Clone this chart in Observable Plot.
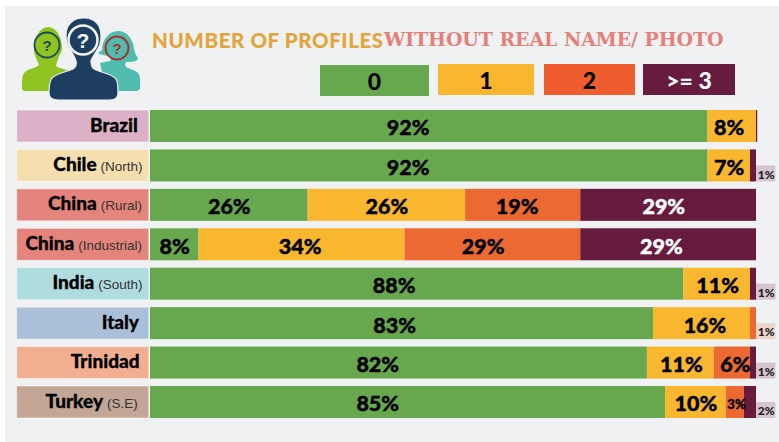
<!DOCTYPE html>
<html><head><meta charset="utf-8">
<script src="https://cdn.jsdelivr.net/npm/d3@7"></script>
<script src="https://cdn.jsdelivr.net/npm/@observablehq/plot@0.6"></script>
<style>
html,body{margin:0;padding:0;background:#fff;width:779px;height:442px;overflow:hidden}
#panel{position:absolute;left:5px;top:6px;width:774px;height:436px;background:#eff1f3}
#chart{position:absolute;left:0;top:0}
#chart svg{background:transparent!important}
.t{position:absolute;white-space:nowrap;line-height:1}
#t1{left:152px;top:28px;font:900 20.5px Lato,sans-serif;color:#e3a43a;letter-spacing:.6px}
#t2{left:384px;top:28px;font:700 19px "DejaVu Serif",serif;color:#e5746c;letter-spacing:-.1px;opacity:.9}
.lg{position:absolute;display:flex;align-items:center;justify-content:center;font:900 23px Lato,sans-serif}
#icon{position:absolute;left:0;top:0}
</style></head><body>
<div id="panel"></div>
<div id="chart"></div>
<svg id="icon" width="150" height="105" viewBox="0 0 150 105">
 <path fill="#8fc31f" d="M34 48c0-11 6-21 14-21s14 10 14 21c0 4-2 6-3 8-1 4-3 7-3 10 2 2 8 3 13 5l-5 20H26c-4 0-4-2-4-5 0-6 0-11 3-14 3-3 11-4 14-7-1-3-3-6-4-10-1-2-1-4-1-7z"/>
 <circle cx="47" cy="45" r="12.5" fill="#8fc31f" stroke="#1b4a5e" stroke-width="1.8"/>
 <text x="47" y="51" text-anchor="middle" font-family="Liberation Sans" font-weight="700" font-size="15" fill="#1b4a5e">?</text>
 <path fill="#4fbcae" d="M102 50c0-10 7-19 16-19s15 8 16 18c1 6 4 8 4 10-2 3-8 3-12 3-1 2-1 3 0 5 3 2 9 3 12 6 3 3 2 10 2 15 0 2-2 3-4 3h-30l-6-28 10-2c1-2 1-3 0-5-3 0-9-1-12-3 2-2 4-2 4-3z"/>
 <circle cx="117" cy="48" r="11.5" fill="#4fbcae" stroke="#a8322f" stroke-width="2"/>
 <text x="117" y="54" text-anchor="middle" font-family="Liberation Sans" font-weight="700" font-size="15" fill="#a8322f">?</text>
 <path fill="#1d3e60" stroke="#eff1f3" stroke-width="1.2" d="M66 36c0-12 7-18 18-18s17 7 17 18c0 7-1 10-4 14-2 4-5 7-6 11 0 5 1 7 5 9 7 3 16 4 20 9 2 3 2 10 2 14 0 4-3 7-8 7H58c-6 0-9-3-9-7 0-5 0-11 3-15 5-5 15-6 21-9 3-2 4-4 3-8-1-4-3-7-5-10-3-5-5-8-5-15z"/>
 <circle cx="83" cy="40" r="14.5" fill="#1d3e60" stroke="#f2f3f4" stroke-width="2.5"/>
 <text x="83" y="48" text-anchor="middle" font-family="Liberation Sans" font-weight="700" font-size="21" fill="#f2f3f4">?</text>
</svg>
<div class="t" id="t1">NUMBER OF PROFILES</div>
<div class="t" id="t2">WITHOUT REAL NAME/ PHOTO</div>
<script>
const regions = ["Brazil","Chile","China","China ","India","Italy","Trinidad","Turkey"];
const regionNotes = ["","(North)","(Rural)","(Industrial)","(South)","","","(S.E)"];
const regionFills = ["#dcb0c6","#f5dfae","#e5837d","#e5837d","#aedcdf","#aac0d8","#f3ae92","#c3a695"];
const categories = ["0","1","2",">= 3"];
const categoryFills = ["#67a84f","#f8b72e","#ec6a31","#671b3d"];
const legendFills = ["#67a84f","#f8b72e","#ef5c2e","#671b3d"];
const legendInks = ["#000","#000","#000","#fff"];

const zero  = [92,92,26, 8,88,83,82,85];
const one   = [ 8, 7,26,34,11,16,11,10];
const two   = [ 0, 0,19,29, 0, 1, 6, 3];
const three = [0.2,1,29,29, 1, 0, 1, 2];

// label placement within a segment, as a shift from its centre (in x units)
const zeroShift  = [-3.5,-3.5,0,0,-3.8,-1.2,-3.5,-5];
const oneShift   = [-.5,0,0,-.3,.1,.5,.1,0];
const twoShift   = [0,0,-1,-1.6,0,0,.5,.2];
const threeShift = [0,0,-.8,-1.2,0,0,0,0];
const series = [zero,one,two,three];
const shifts = [zeroShift,oneShift,twoShift,threeShift];

// small labels outside the bar, and the series they belong to
const outsideValues = [null,1,null,null,1,1,1,2];
const outsideSeries = [3,3,3,3,3,2,3,3];
const labelEnds = [-2.1,-1.3,-1.4,-1.4,-1.3,-1.9,-1.8,-2.1];

const segments = [];
regions.forEach((r,i)=>{
  let x = 0;
  series.forEach((s,k)=>{
    const v = s[i];
    if(v>0){
      segments.push({region:r,k,value:v,x1:x,x2:x+v,mid:x+v/2+shifts[k][i],
        inside:!(outsideValues[i]!==null && outsideSeries[i]===k) && v>=3});
    }
    x += v;
  });
});
const rows = regions.map((r,i)=>({region:r,note:regionNotes[i],fill:regionFills[i],end:labelEnds[i],
  out:outsideValues[i],outK:outsideSeries[i]}));
const out = rows.filter(d=>d.out!==null);
const bigFont = "Lato, sans-serif";
const ink = d=>d.k===3?"#fff":"#000";

const plot = Plot.plot({
  width:779,height:442,margin:0,
  style:{background:"transparent",overflow:"visible"},
  x:{domain:[0,100],range:[150,756],axis:null},
  y:{domain:regions,range:[110,418],paddingInner:.188,paddingOuter:0,round:false,axis:null},
  marks:[
    Plot.barX(rows,{y:"region",x1:-22,x2:-.2,fill:"fill",stroke:"#fff",strokeOpacity:.5}),
    Plot.barX(segments,{y:"region",x1:"x1",x2:"x2",fill:d=>categoryFills[d.k]}),
    Plot.barX(out,{y:"region",x1:100,x2:103.2,insetTop:16,fill:d=>categoryFills[d.outK],fillOpacity:.2}),
    Plot.text(out,{y:"region",x:101.6,dy:9,text:d=>d.out+"%",fontFamily:bigFont,fontWeight:900,fontSize:12,fill:"#222"}),
    Plot.text(segments.filter(d=>d.inside),{y:"region",x:"mid",dy:2,text:d=>d.value+"%",
      fontFamily:bigFont,fontWeight:900,fontSize:d=>d.value===3?13:21.5,
      fill:ink,stroke:ink,strokeWidth:.4}),
    Plot.text(rows,{y:"region",x:"end",dy:-1,textAnchor:"end",text:"region",
      fontFamily:bigFont,fontWeight:900,fontSize:19,fill:"#000",stroke:"#000",strokeWidth:.3,className:"regionlabel"})
  ]
});
document.getElementById("chart").append(plot);

// the qualifier in brackets is smaller and lighter than the region's name
d3.select(plot).selectAll('.regionlabel text, g.regionlabel text').each(function(d){
  const i = d; const name = regions[i].trim(); const note = regionNotes[i];
  const t = d3.select(this); t.text(null);
  t.append("tspan").text(name);
  if(note) t.append("tspan").attr("dx",4).attr("font-size",13.5).attr("font-weight",400)
    .attr("font-family","Liberation Sans").attr("fill","#333").attr("stroke","none").text(note);
});

const legendBoxes = [[320,65,109,31],[438,64,96,31],[544,64,91,31],[643,64,92,31]];
categories.forEach((c,i)=>{
  const [l,t,w,h]=legendBoxes[i];
  d3.select("body").append("div").attr("class","lg")
   .style("left",l+"px").style("top",t+"px").style("width",w+"px").style("height",h+"px")
   .style("background",legendFills[i]).style("color",legendInks[i]).text(c);
});
</script>
</body></html>
